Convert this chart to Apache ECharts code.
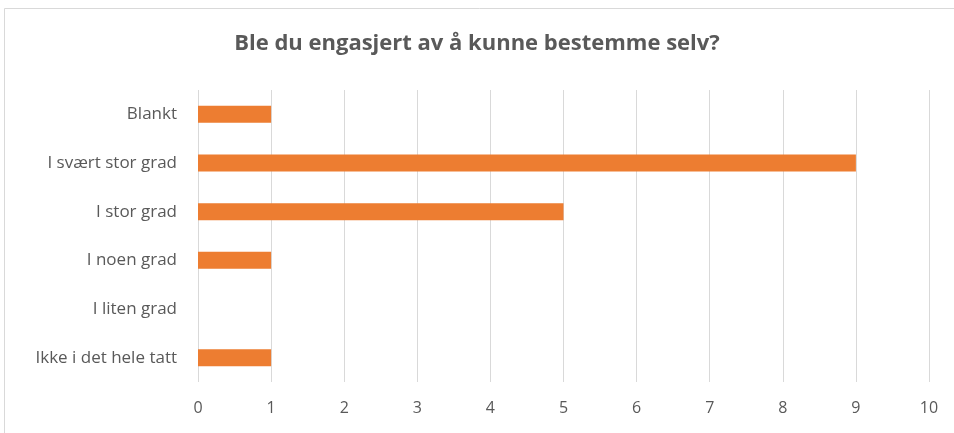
<!DOCTYPE html>
<html>
<head>
<meta charset="utf-8">
<script src="https://cdn.jsdelivr.net/npm/echarts@6/dist/echarts.min.js"></script>
<style>
  html, body { margin: 0; padding: 0; background: #fff; }
  #chart { width: 954px; height: 433px; }
</style>
</head>
<body>
<div id="chart"></div>
<script>
// kategorier ovenfra og ned
var categories = ['Blankt', 'I svært stor grad', 'I stor grad', 'I noen grad', 'I liten grad', 'Ikke i det hele tatt']
var values = [1, 9, 5, 1, 0, 1]
var xTicks = [0, 1, 2, 3, 4, 5, 6, 7, 8, 9, 10]

var chart = echarts.init(document.getElementById('chart'))
chart.setOption({
  animation: false,
  title: {
    text: 'Ble du engasjert av å kunne bestemme selv?',
    left: 'center',
    top: 28,
    textStyle: {
      fontFamily: 'Open Sans',
      fontSize: 22,
      fontWeight: 'bold',
      color: '#595959'
    }
  },
  graphic: [{
    type: 'rect',
    shape: { x: 4.5, y: 8.5, width: 960, height: 440 },
    style: { fill: 'none', stroke: '#d9d9d9', lineWidth: 1 },
    silent: true
  }],
  grid: { left: 198, right: 25, top: 90, bottom: 51 },
  xAxis: {
    type: 'value',
    min: xTicks[0],
    max: xTicks[xTicks.length - 1],
    interval: 1,
    axisLine: { show: false },
    axisTick: { show: false },
    axisLabel: { color: '#595959', fontSize: 16, fontFamily: 'Open Sans', margin: 18 },
    splitLine: { lineStyle: { color: '#d9d9d9', width: 1 } }
  },
  yAxis: {
    type: 'category',
    data: categories,
    inverse: true,
    axisLine: { show: false },
    axisTick: { show: false },
    axisLabel: { color: '#595959', fontSize: 17, fontFamily: 'Open Sans', margin: 21 }
  },
  series: [{
    type: 'bar',
    data: values,
    barWidth: 17,
    itemStyle: { color: '#ED7D31' }
  }]
})
</script>
</body>
</html>
